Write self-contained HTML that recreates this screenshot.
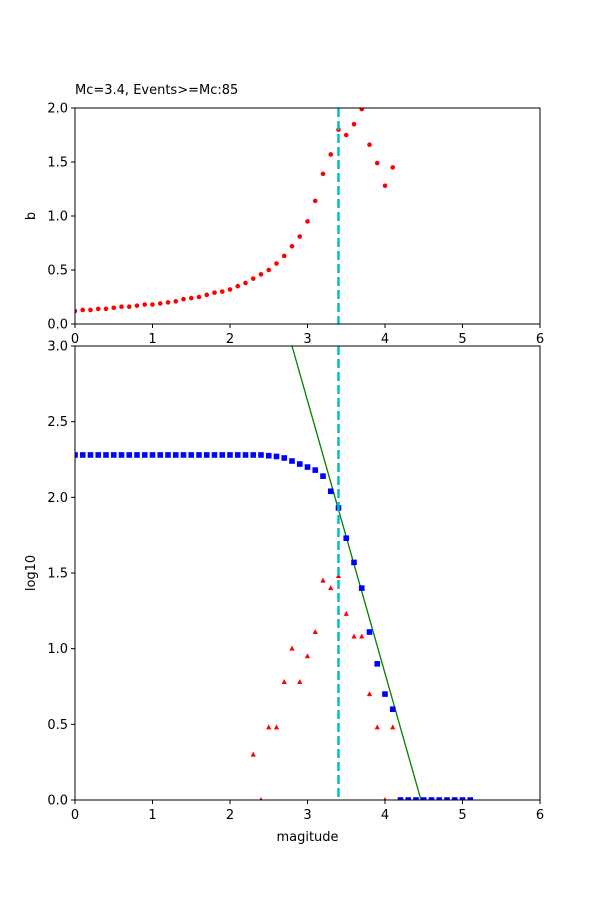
<!DOCTYPE html>
<html><head><meta charset="utf-8"><style>
html,body{margin:0;padding:0;background:#fff;}
svg text{font-family:"DejaVu Sans","Liberation Sans",sans-serif;font-size:13px;fill:#000;}
</style></head><body>
<svg id="s" width="600" height="900" xmlns="http://www.w3.org/2000/svg">
<rect width="600" height="900" fill="#fff"/>
</svg>
<script>
const s=document.getElementById('s');let h='';
const X=m=>75+m*77.5;
const Yt=v=>324-v*108;
const Yb=v=>800-v*151.333;
// top dots
const b=[0.12,0.13,0.13,0.14,0.14,0.15,0.16,0.16,0.17,0.18,0.18,0.19,0.20,0.21,0.23,0.24,0.25,0.27,0.29,0.30,0.32,0.35,0.38,0.42,0.46,0.50,0.56,0.63,0.72,0.81,0.95,1.14,1.39,1.57,1.80,1.75,1.85,1.99,1.66,1.49,1.28,1.45];
h+='<defs><clipPath id="ct"><rect x="75" y="108" width="465" height="216"/></clipPath><clipPath id="cb"><rect x="75" y="346" width="465" height="454"/></clipPath></defs>';
h+='<g clip-path="url(#ct)">';
b.forEach((v,i)=>{h+=`<circle cx="${X(i/10)}" cy="${Yt(v)}" r="2.3" fill="red"/>`;});
h+=`<line x1="338.5" y1="108" x2="338.5" y2="324" stroke="#00bfbf" stroke-width="2.5" stroke-dasharray="9,4"/>`;
h+='</g>';
// bottom
h+='<g clip-path="url(#cb)">';
h+=`<line x1="292" y1="346" x2="421" y2="800" stroke="green" stroke-width="1.3"/>`;
const tri=[[2.3,0.30],[2.4,0],[2.5,0.48],[2.6,0.48],[2.7,0.78],[2.8,1.0],[2.9,0.78],[3.0,0.95],[3.1,1.11],[3.2,1.45],[3.3,1.40],[3.4,1.48],[3.5,1.23],[3.6,1.08],[3.7,1.08],[3.8,0.70],[3.9,0.48],[4.0,0],[4.1,0.48]];
tri.forEach(([m,v])=>{const x=X(m),y=Yb(v);h+=`<polygon points="${x},${y-3} ${x-2.6},${y+2} ${x+2.6},${y+2}" fill="red"/>`;});
const bl=[];for(let i=0;i<=24;i++)bl.push([i/10,2.28]);
[[2.5,2.275],[2.6,2.27],[2.7,2.26],[2.8,2.24],[2.9,2.22],[3.0,2.20],[3.1,2.18],[3.2,2.14],[3.3,2.04],[3.4,1.93],[3.5,1.73],[3.6,1.57],[3.7,1.40],[3.8,1.11],[3.9,0.90],[4.0,0.70],[4.1,0.60]].forEach(p=>bl.push(p));
for(let i=42;i<=51;i++)bl.push([i/10,0]);
bl.forEach(([m,v])=>{h+=`<rect x="${X(m)-2.8}" y="${Yb(v)-2.8}" width="5.6" height="5.6" fill="blue"/>`;});
h+=`<line x1="338.5" y1="346" x2="338.5" y2="800" stroke="#00bfbf" stroke-width="2.5" stroke-dasharray="9,4"/>`;
h+='</g>';
// axes frames
h+='<rect x="75" y="108" width="465" height="216" fill="none" stroke="#000" stroke-width="1"/>';
h+='<rect x="75" y="346" width="465" height="454" fill="none" stroke="#000" stroke-width="1"/>';
for(let i=0;i<=6;i++){const x=X(i);
h+=`<line x1="${x}" y1="324" x2="${x}" y2="328" stroke="#000"/><text x="${x}" y="343" text-anchor="middle">${i}</text>`;
h+=`<line x1="${x}" y1="800" x2="${x}" y2="804" stroke="#000"/><text x="${x}" y="819" text-anchor="middle">${i}</text>`;}
for(let i=0;i<=4;i++){const v=i*0.5,y=Yt(v);
h+=`<line x1="71" y1="${y}" x2="75" y2="${y}" stroke="#000"/><text x="68" y="${y+4.5}" text-anchor="end">${v.toFixed(1)}</text>`;}
for(let i=0;i<=6;i++){const v=i*0.5,y=Yb(v);
h+=`<line x1="71" y1="${y}" x2="75" y2="${y}" stroke="#000"/><text x="68" y="${y+4.5}" text-anchor="end">${v.toFixed(1)}</text>`;}
h+='<text x="75" y="94">Mc=3.4, Events&gt;=Mc:85</text>';
h+='<text transform="translate(35,216) rotate(-90)" text-anchor="middle">b</text>';
h+='<text transform="translate(35,573) rotate(-90)" text-anchor="middle">log10</text>';
h+='<text x="307.5" y="841" text-anchor="middle">magitude</text>';
s.innerHTML+=h;
</script>
</body></html>
